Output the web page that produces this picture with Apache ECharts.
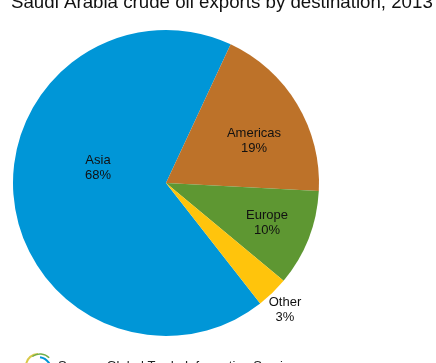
<!DOCTYPE html>
<html><head><meta charset="utf-8">
<style>html,body{margin:0;padding:0;background:#fff}#c{width:436px;height:363px}</style>
<script src="https://cdn.jsdelivr.net/npm/echarts@6/dist/echarts.min.js"></script>
</head><body><div id="c"></div>
<script>
var categories=['Asia','Americas','Europe','Other'];
var shares=[67.5,18.9,10.2,3.4];
var colors=['#0096D7','#BD7229','#5E9732','#FFC40C'];
var labelSpots=[[98,168],[254,141],[267,223],[285,310]];
var titleText='Saudi Arabia crude oil exports by destination, 2013';
var sourceText='Source: Global Trade Information Services';
var F='"Liberation Sans",Arial,sans-serif';
var chart=echarts.init(document.getElementById('c'),null,{renderer:'canvas'});
chart.setOption({
  animation:false,
  backgroundColor:'#fff',
  title:{text:titleText,left:6,top:-12,textStyle:{fontFamily:F,fontSize:18.7,fontWeight:'normal',color:'#111'}},
  series:[{
    type:'pie',center:[166,183],radius:[0,153],startAngle:-52,clockwise:true,
    data:categories.map(function(n,i){return {name:n,value:shares[i],itemStyle:{color:colors[i]}};}),
    labelLine:{show:false},
    label:{show:true,position:'inside',formatter:function(p){return p.name+'\n'+Math.round(p.value)+'%';},fontFamily:F,fontSize:13,lineHeight:15,color:'#111',align:'center'},
    labelLayout:function(p){var s=labelSpots[p.dataIndex];return {x:s[0],y:s[1],align:'center',verticalAlign:'middle'};}
  }],
  graphic:[
    {type:'arc',shape:{cx:38,cy:366,r:12,startAngle:Math.PI*1.05,endAngle:Math.PI*1.5},style:{stroke:'#D9C94A',lineWidth:2,fill:null}},
    {type:'arc',shape:{cx:40,cy:367,r:13,startAngle:Math.PI*1.3,endAngle:Math.PI*1.75},style:{stroke:'#6FAE4A',lineWidth:1.5,fill:null}},
    {type:'arc',shape:{cx:38,cy:370,r:13,startAngle:Math.PI*1.55,endAngle:Math.PI*2.1},style:{stroke:'#0096D7',lineWidth:2,fill:null}},
    {type:'text',style:{x:58,y:360,text:sourceText,fontFamily:F,fontSize:13,fill:'#222'}}
  ]
});
</script></body></html>
